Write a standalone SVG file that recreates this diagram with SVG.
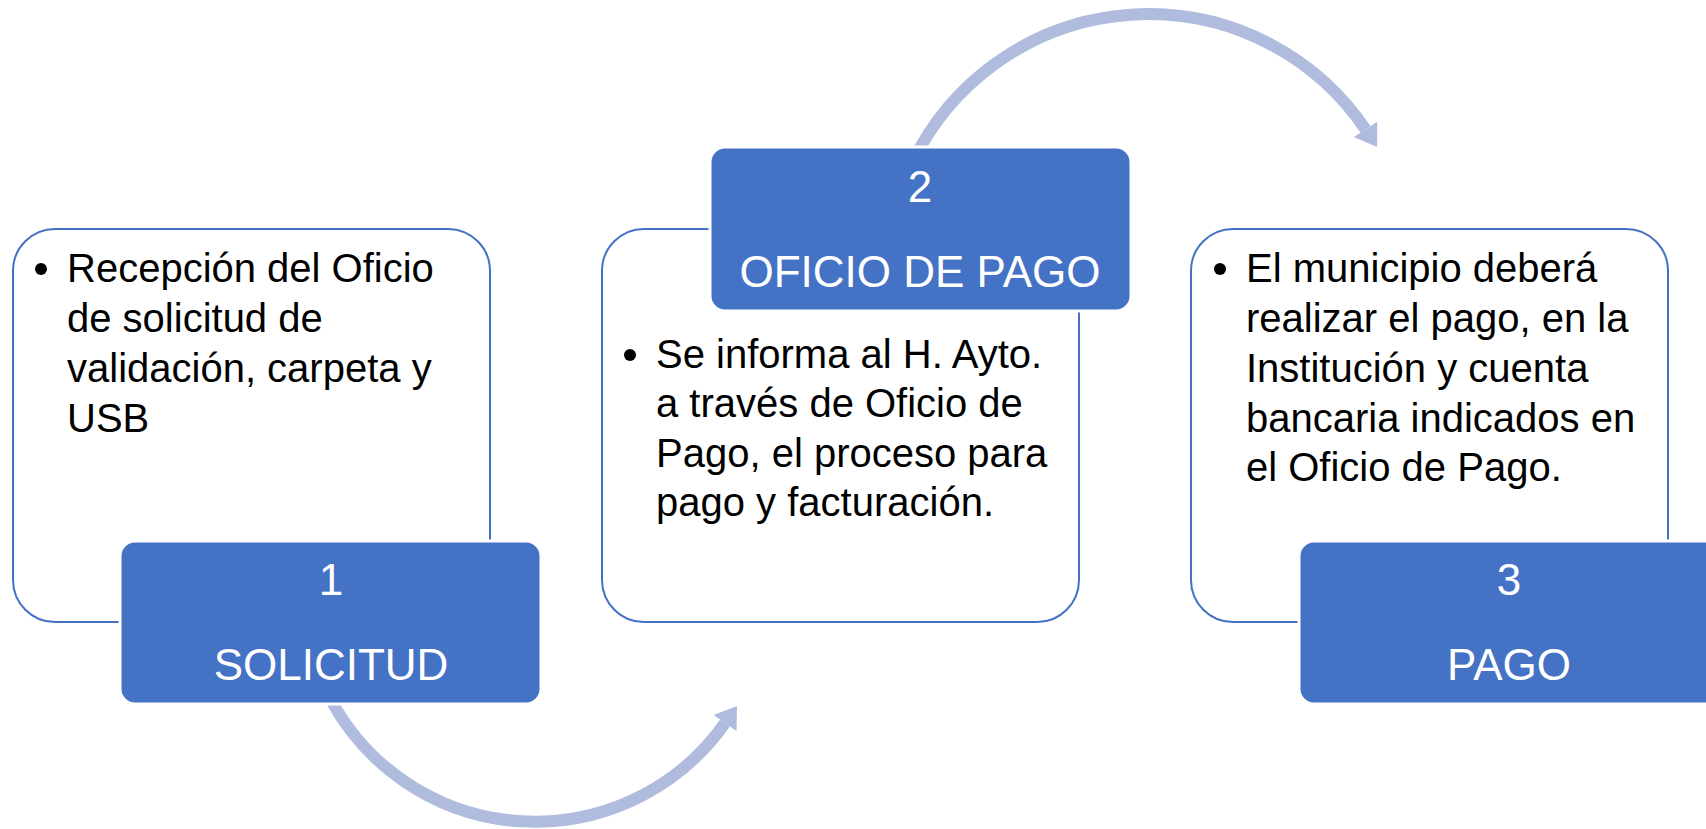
<svg xmlns="http://www.w3.org/2000/svg" width="1706" height="829" viewBox="0 0 1706 829">
<style>
.card{fill:#FFFFFF;stroke:#4472C4;stroke-width:2}
.head{fill:#4472C4;stroke:#FFFFFF;stroke-width:3}
.body{font-family:"Liberation Sans",Arial,sans-serif;font-size:40px;fill:#000000}
.lbl{font-family:"Liberation Sans",Arial,sans-serif;font-size:44px;fill:#FFFFFF;text-anchor:middle}
.arc{fill:none;stroke:#B0BCDE;stroke-width:12}
.tip{fill:#B0BCDE}
</style>
<rect width="1706" height="829" fill="#FFFFFF"/>
<g id="card1">
<rect class="card" x="13" y="229" width="477" height="393" rx="42"/>
<circle cx="41" cy="269" r="6"/>
<text class="body" x="67"><tspan x="67" y="282">Recepción del Oficio</tspan><tspan x="67" y="332">de solicitud de</tspan><tspan x="67" y="382">validación, carpeta y</tspan><tspan x="67" y="432">USB</tspan></text>
</g>
<g id="card2">
<rect class="card" x="602" y="229" width="477" height="393" rx="42"/>
<circle cx="630" cy="355" r="6"/>
<text class="body"><tspan x="656" y="368">Se informa al H. Ayto.</tspan><tspan x="656" y="417">a través de Oficio de</tspan><tspan x="656" y="467">Pago, el proceso para</tspan><tspan x="656" y="516">pago y facturación.</tspan></text>
</g>
<g id="card3">
<rect class="card" x="1191" y="229" width="477" height="393" rx="42"/>
<circle cx="1220" cy="269" r="6"/>
<text class="body"><tspan x="1246" y="282">El municipio deberá</tspan><tspan x="1246" y="332">realizar el pago, en la</tspan><tspan x="1246" y="382">Institución y cuenta</tspan><tspan x="1246" y="432">bancaria indicados en</tspan><tspan x="1246" y="481">el Oficio de Pago.</tspan></text>
</g>
<g id="connectors">
<path class="arc" d="M 331 700 A 232 232 0 0 0 725 723"/>
<polygon class="tip" points="737,706 713.5,715 736.5,731"/>
<path class="arc" d="M 913.6 160 A 262 262 0 0 1 1365.5 129.4"/>
<polygon class="tip" points="1377.1,146.9 1353.8,137.1 1377.2,121.7"/>
</g>
<g id="step1">
<rect class="head" x="120" y="541" width="421" height="163" rx="15"/>
<text class="lbl" x="331" y="595">1</text>
<text class="lbl" x="331" y="680">SOLICITUD</text>
</g>
<g id="step2">
<rect class="head" x="710" y="147" width="421" height="164" rx="15"/>
<text class="lbl" x="920" y="202">2</text>
<text class="lbl" x="920" y="287">OFICIO DE PAGO</text>
</g>
<g id="step3">
<rect class="head" x="1299" y="541" width="421" height="163" rx="15"/>
<text class="lbl" x="1509" y="595">3</text>
<text class="lbl" x="1509" y="680">PAGO</text>
</g>
</svg>
